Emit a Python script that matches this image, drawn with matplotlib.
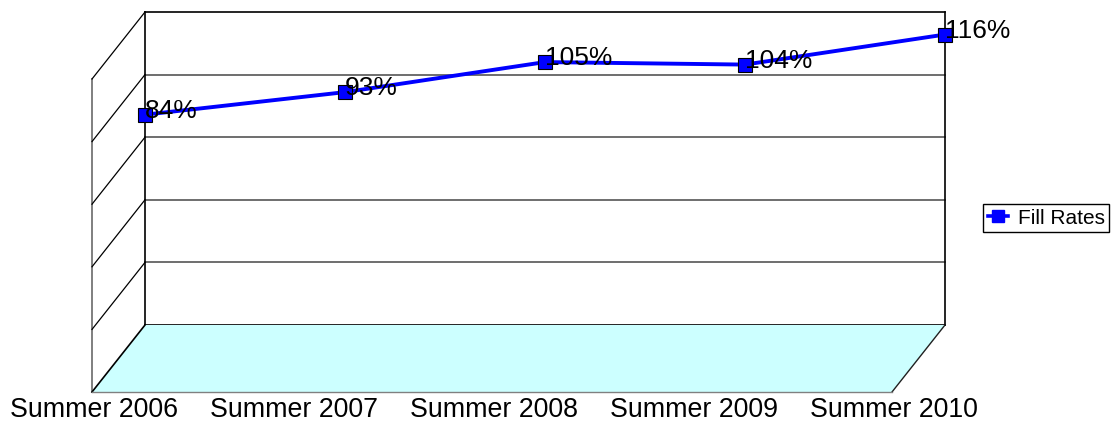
import numpy as np
import matplotlib
matplotlib.use('Agg')
import matplotlib.pyplot as plt
from matplotlib.transforms import ScaledTranslation, IdentityTransform
from matplotlib.patches import Polygon
from matplotlib.lines import Line2D

categories = ['Summer 2006', 'Summer 2007', 'Summer 2008', 'Summer 2009', 'Summer 2010']
fill_rates = [0.84, 0.93, 1.05, 1.04, 1.16]
data_labels = ['84%', '93%', '105%', '104%', '116%']
series_name = 'Fill Rates'
y_gridlines = [0, 0.25, 0.5, 0.75, 1.0, 1.25]

plt.rcParams['font.family'] = ['Liberation Sans', 'DejaVu Sans']
W, H, DPI = 1115, 423, 100
fig = plt.figure(figsize=(W / DPI, H / DPI), dpi=DPI)
ax = fig.add_axes([145 / W, (H - 325) / H, 800 / W, 313 / H])
xmax = len(categories) - 1
ax.set_xlim(0, xmax)
ax.set_ylim(0, y_gridlines[-1])
ax.axis('off')

DX, DY = -53, -67  # depth offset in pixels (front = back + offset)


def off(dx, dy):
    return ax.transData + ScaledTranslation(dx / DPI, dy / DPI, fig.dpi_scale_trans)


front = off(DX, DY)
fig.canvas.draw()

# floor
back_pts = ax.transData.transform([(0, 0), (xmax, 0)])
front_pts = back_pts + np.array([DX, DY])
floor = Polygon([back_pts[0], back_pts[1], front_pts[1], front_pts[0]], closed=True,
                facecolor='#CCFFFF', edgecolor='none', transform=IdentityTransform(), zorder=1)
fig.patches.append(floor)
floor.set_figure(fig)
fig.add_artist(Line2D([back_pts[1][0], front_pts[1][0]], [back_pts[1][1], front_pts[1][1]],
                      transform=IdentityTransform(), color='#202020', lw=1.0))
fig.add_artist(Line2D([back_pts[0][0], front_pts[0][0]], [back_pts[0][1], front_pts[0][1]],
                      transform=IdentityTransform(), color='black', lw=1.2))
fig.add_artist(Line2D([front_pts[0][0], front_pts[1][0]], [front_pts[0][1], front_pts[1][1]],
                      transform=IdentityTransform(), color='#808080', lw=1.0))

# back wall gridlines
for y in y_gridlines:
    col = 'black' if y in (y_gridlines[0], y_gridlines[-1]) else '#555555'
    ax.plot([0, xmax], [y, y], color=col, lw=1.2, clip_on=False, zorder=2)
ax.plot([0, 0], [0, y_gridlines[-1]], color='black', lw=1.2, clip_on=False, zorder=2)
ax.plot([xmax, xmax], [0, y_gridlines[-1]], color='black', lw=1.2, clip_on=False, zorder=2)

# left side wall
ax.plot([0, 0], [0, y_gridlines[-1]], color='#6a6a6a', lw=1.2, clip_on=False,
        transform=front, zorder=2)
for y in y_gridlines[1:]:
    b = ax.transData.transform((0, y))
    f = b + np.array([DX, DY])
    fig.add_artist(Line2D([b[0], f[0]], [b[1], f[1]], transform=IdentityTransform(),
                          color='black', lw=0.9))

# series
x = np.arange(len(categories))
ax.plot(x, fill_rates, color='#0000FF', lw=2.8, marker='s', markersize=9.5,
        markerfacecolor='#0000FF', markeredgecolor='black', markeredgewidth=0.8,
        clip_on=False, zorder=5)

# data labels
for xi, yi, lab in zip(x, fill_rates, data_labels):
    ax.text(xi, yi, lab, transform=off(0, -3), ha='left', va='baseline',
            fontsize=19, color='black', zorder=6)

# category labels
for xi, cat in zip(x, categories):
    ax.text(xi, 0, cat, transform=off(DX + 2, DY - 25), ha='center', va='baseline',
            fontsize=19.3, color='black')

# legend
handle = Line2D([], [], color='#0000FF', lw=2.6, marker='s', markersize=8,
                markerfacecolor='#0000FF', markeredgecolor='#0000FF')
leg = fig.legend([handle], [series_name], loc='upper left',
                 bbox_to_anchor=(983 / W, 1 - 204 / H), fontsize=15,
                 handlelength=1.0, handletextpad=0.45, borderpad=0.22,
                 borderaxespad=0, fancybox=False, framealpha=1, edgecolor='black')
leg.get_frame().set_linewidth(1.0)

fig.savefig('out.png', dpi=DPI)
